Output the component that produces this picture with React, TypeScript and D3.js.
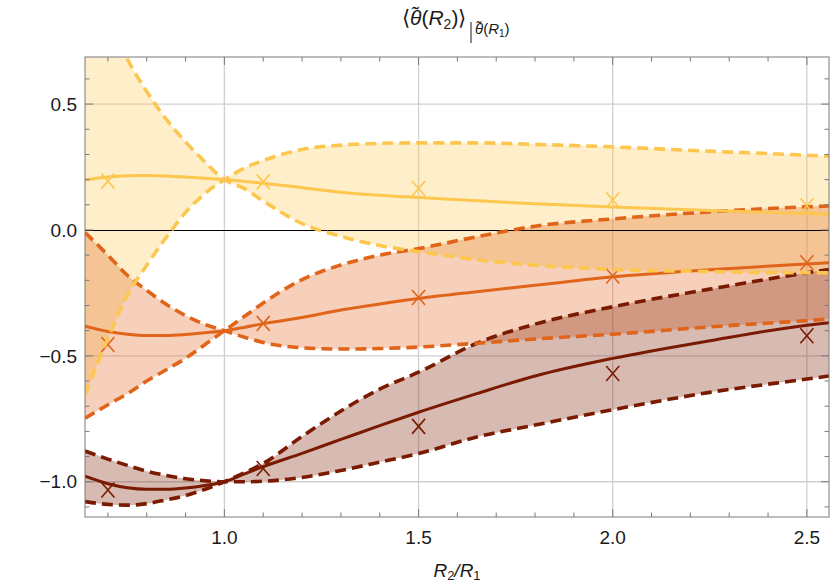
import React from 'react';
import * as d3 from 'd3';

// shared sample positions of R2/R1
const xs = [0.641, 0.7, 0.75, 0.8, 0.85, 0.9, 0.95, 1.0, 1.05, 1.1, 1.2, 1.3, 1.4, 1.5, 1.65, 1.8, 2.0, 2.25, 2.5, 2.557];

// yellow series
const yellowMean = [0.198, 0.21, 0.215, 0.216, 0.214, 0.21, 0.205, 0.2, 0.193, 0.186, 0.168, 0.15, 0.138, 0.129, 0.116, 0.104, 0.091, 0.077, 0.065, 0.062];
const yellowA = [1.05, 0.86, 0.68, 0.55, 0.44, 0.35, 0.27, 0.2, 0.165, 0.115, 0.025, -0.025, -0.062, -0.086, -0.118, -0.14, -0.157, -0.165, -0.17, -0.17];
const yellowB = [-0.655, -0.43, -0.26, -0.14, -0.03, 0.07, 0.145, 0.2, 0.245, 0.276, 0.32, 0.337, 0.344, 0.346, 0.346, 0.34, 0.33, 0.313, 0.297, 0.293];
const yellowMarks = [0.194, 0.191, 0.165, 0.119, 0.096];

// orange series
const orangeMean = [-0.382, -0.403, -0.414, -0.419, -0.419, -0.415, -0.408, -0.4, -0.387, -0.372, -0.348, -0.318, -0.294, -0.272, -0.245, -0.22, -0.186, -0.158, -0.135, -0.13];
const orangeA = [-0.01, -0.1, -0.18, -0.24, -0.295, -0.34, -0.375, -0.4, -0.425, -0.447, -0.468, -0.473, -0.471, -0.465, -0.45, -0.433, -0.414, -0.385, -0.36, -0.354];
const orangeB = [-0.748, -0.694, -0.65, -0.6, -0.555, -0.51, -0.455, -0.4, -0.345, -0.29, -0.197, -0.139, -0.1, -0.074, -0.027, 0.015, 0.044, 0.072, 0.092, 0.095];
const orangeMarks = [-0.455, -0.371, -0.268, -0.183, -0.13];

// dark red series
const redMean = [-0.978, -1.008, -1.024, -1.03, -1.03, -1.025, -1.015, -1.0, -0.97, -0.94, -0.887, -0.832, -0.777, -0.724, -0.65, -0.58, -0.51, -0.44, -0.378, -0.368];
const redA = [-0.878, -0.91, -0.935, -0.958, -0.975, -0.988, -0.996, -1.0, -1.0, -0.998, -0.983, -0.955, -0.922, -0.888, -0.822, -0.775, -0.714, -0.645, -0.592, -0.58];
const redB = [-1.079, -1.09, -1.093, -1.087, -1.072, -1.055, -1.03, -1.0, -0.965, -0.927, -0.82, -0.719, -0.632, -0.565, -0.45, -0.374, -0.305, -0.235, -0.17, -0.157];
const redMarks = [-1.033, -0.947, -0.78, -0.57, -0.42];

const markX = [0.7, 1.1, 1.5, 2.0, 2.5];

const xMajor = [1.0, 1.5, 2.0, 2.5];
const xTickLabels = ['1.0', '1.5', '2.0', '2.5'];
const yMajor = [-1.0, -0.5, 0, 0.5];
const yTickLabels = ['\u22121.0', '\u22120.5', '0.0', '0.5'];

const W = 830;
const H = 586;
const left = 85, right = 829, top = 57, bottom = 517;
const font = 'Liberation Sans, Arial, sans-serif';

export default function App() {
  const x = d3.scaleLinear().domain([0.641, 2.557]).range([left, right]);
  const y = d3.scaleLinear().domain([-1.14, 0.687]).range([bottom, top]);

  const series = [
    { color: '#fdc64e', mean: yellowMean, a: yellowA, b: yellowB, marks: yellowMarks },
    { color: '#e0651a', mean: orangeMean, a: orangeA, b: orangeB, marks: orangeMarks },
    { color: '#7a1a00', mean: redMean, a: redA, b: redB, marks: redMarks },
  ];

  const line = (vals: number[]) =>
    d3.line<number>()
      .x((_, i) => x(xs[i]))
      .y(d => y(d))
      .curve(d3.curveMonotoneX)(vals) || '';

  const area = (a: number[], b: number[]) =>
    d3.area<number>()
      .x(d => x(d))
      .y0((_, i) => y(a[i]))
      .y1((_, i) => y(b[i]))
      .curve(d3.curveMonotoneX)(xs) || '';

  const xMinor = d3.range(7, 26).map(v => v / 10).filter(v => !xMajor.some(m => Math.abs(m - v) < 1e-6));
  const yMinor = d3.range(-11, 7).map(v => v / 10).filter(v => !yMajor.some(m => Math.abs(m - v) < 1e-6));

  const frame = '#7a7a7a';
  const crisp = (v: number) => Math.round(v) + 0.5;

  return (
    <svg width={W} height={H} style={{ position: 'absolute', left: 0, top: 0, background: '#fff' }}>
      <defs>
        <clipPath id="plot">
          <rect x={left} y={top} width={right - left} height={bottom - top} />
        </clipPath>
      </defs>

      {/* grid */}
      {xMajor.map(v => (
        <line key={'gx' + v} x1={x(v)} x2={x(v)} y1={top} y2={bottom} stroke="#d0d0d0" strokeWidth={1.3} />
      ))}
      {yMajor.filter(v => v !== 0).map(v => (
        <line key={'gy' + v} x1={left} x2={right} y1={y(v)} y2={y(v)} stroke="#d0d0d0" strokeWidth={1.3} />
      ))}

      <g clipPath="url(#plot)">
        {series.map((s, k) => (
          <path key={'f' + k} d={area(s.a, s.b)} fill={s.color} fillOpacity={0.3} stroke="none" />
        ))}
        <line x1={left} x2={right} y1={crisp(y(0))} y2={crisp(y(0))} stroke="#000" strokeWidth={1} />
        {series.slice().reverse().map((s, k) => (
          <g key={'l' + k} fill="none" stroke={s.color}>
            <path d={line(s.a)} strokeWidth={3.6} strokeDasharray="11,6" />
            <path d={line(s.b)} strokeWidth={3.6} strokeDasharray="11,6" />
            <path d={line(s.mean)} strokeWidth={3} />
            {s.marks.map((m, i) => {
              const cx = x(markX[i]);
              const cy = y(m);
              return (
                <path key={i} d={`M${cx - 6.5},${cy - 7.5}L${cx + 6.5},${cy + 7.5}M${cx - 6.5},${cy + 7.5}L${cx + 6.5},${cy - 7.5}`} strokeWidth={1.6} />
              );
            })}
          </g>
        ))}
      </g>

      {/* frame */}
      <rect x={left} y={top} width={right - left} height={bottom - top} fill="none" stroke={frame} strokeWidth={1} />

      {/* ticks */}
      {xMajor.map(v => (
        <g key={'tx' + v} stroke={frame}>
          <line x1={x(v)} x2={x(v)} y1={bottom} y2={bottom - 8} />
          <line x1={x(v)} x2={x(v)} y1={top} y2={top + 8} />
        </g>
      ))}
      {xMinor.map(v => (
        <g key={'mx' + v} stroke={frame}>
          <line x1={x(v)} x2={x(v)} y1={bottom} y2={bottom - 4.5} />
          <line x1={x(v)} x2={x(v)} y1={top} y2={top + 4.5} />
        </g>
      ))}
      {yMajor.map(v => (
        <g key={'ty' + v} stroke={frame}>
          <line x1={left} x2={left + 8} y1={y(v)} y2={y(v)} />
          <line x1={right} x2={right - 8} y1={y(v)} y2={y(v)} />
        </g>
      ))}
      {yMinor.map(v => (
        <g key={'my' + v} stroke={frame}>
          <line x1={left} x2={left + 4.5} y1={y(v)} y2={y(v)} />
          <line x1={right} x2={right - 4.5} y1={y(v)} y2={y(v)} />
        </g>
      ))}

      {/* tick labels */}
      {xMajor.map((v, i) => (
        <text key={'lx' + v} x={x(v)} y={544} textAnchor="middle" fontFamily={font} fontSize={19} fill="#1a1a1a">
          {xTickLabels[i]}
        </text>
      ))}
      {yMajor.map((v, i) => (
        <text key={'ly' + v} x={77} y={y(v)} dy="0.35em" textAnchor="end" fontFamily={font} fontSize={19} fill="#1a1a1a">
          {yTickLabels[i]}
        </text>
      ))}

      {/* axis label */}
      <text x={457} y={577} textAnchor="middle" fontFamily={font} fontSize={19} fill="#1a1a1a">
        <tspan fontStyle="italic">R</tspan>
        <tspan fontSize={13} dy={3}>2</tspan>
        <tspan dy={-3} fontStyle="italic">/R</tspan>
        <tspan fontSize={13} dy={3}>1</tspan>
      </text>

      {/* title */}
      <text x={402} y={25} fontFamily={font} fontSize={21} fill="#1a1a1a">
        {'\u27E8'}
        <tspan fontStyle="italic">{'\u03B8\u0303'}</tspan>
        <tspan>(</tspan>
        <tspan fontStyle="italic">R</tspan>
        <tspan fontSize={14} dy={4}>2</tspan>
        <tspan dy={-4}>){'\u27E9'}</tspan>
      </text>
      <line x1={471} x2={471} y1={22} y2={43} stroke="#1a1a1a" strokeWidth={1} />
      <text x={475} y={34} fontFamily={font} fontSize={15} fill="#1a1a1a">
        <tspan fontStyle="italic">{'\u03B8\u0303'}</tspan>
        <tspan>(</tspan>
        <tspan fontStyle="italic">R</tspan>
        <tspan fontSize={10} dy={3}>1</tspan>
        <tspan dy={-3}>)</tspan>
      </text>
    </svg>
  );
}
